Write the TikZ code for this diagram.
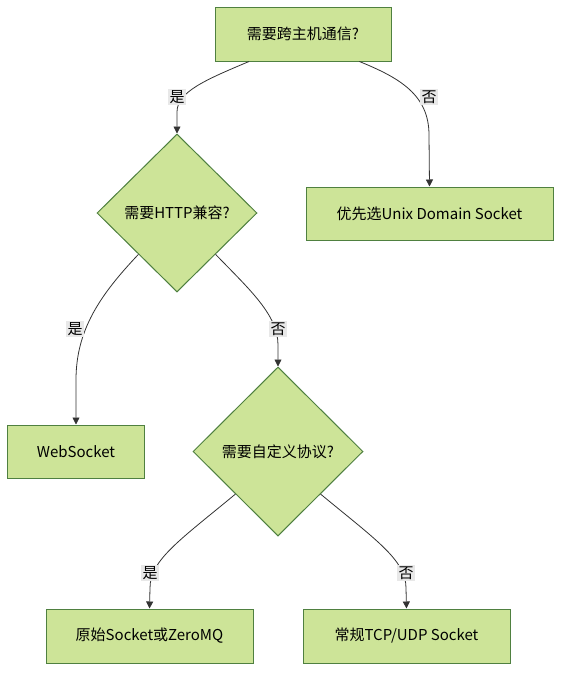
\documentclass[tikz,border=0pt]{standalone}
\usepackage{fontspec}
\setmainfont{Noto Sans CJK SC}
\usetikzlibrary{shapes.geometric,arrows.meta}
\definecolor{boxfill}{HTML}{CDE498}
\definecolor{boxline}{HTML}{4F8040}
\definecolor{lblbg}{HTML}{E8E8E8}
\tikzset{
  box/.style={draw=boxline, line width=1pt, fill=boxfill, rectangle, minimum height=53, inner sep=0pt, font=\fontsize{15}{17}\selectfont},
  dia/.style={draw=boxline, line width=1pt, fill=boxfill, diamond, inner sep=0pt, font=\fontsize{15}{17}\selectfont},
  arr/.style={draw=black!80, line width=0.8pt, -{Triangle[length=7pt,width=7pt]}},
  lbl/.style={fill=lblbg, inner sep=1.5pt, font=\fontsize{15}{17}\selectfont}
}
\begin{document}
\begin{tikzpicture}[x=1pt,y=-1pt]
\useasboundingbox (0,0) rectangle (569,680);
\node[box, minimum width=176, minimum height=54] (q1) at (303,34) {需要跨主机通信?};
\node[dia, minimum width=160, minimum height=158] (d1) at (177,213) {需要HTTP兼容?};
\node[box, minimum width=247] (unix) at (429.5,213.5) {优先选Unix Domain Socket};
\node[box, minimum width=137] (ws) at (76,451.5) {WebSocket};
\node[dia, minimum width=170, minimum height=169] (d2) at (278,451.5) {需要自定义协议?};
\node[box, minimum width=207, minimum height=54] (raw) at (149.5,636) {原始Socket或ZeroMQ};
\node[box, minimum width=207, minimum height=54] (tcp) at (406.5,636) {常规TCP/UDP Socket};

\coordinate (c1) at (177,112);
\coordinate (c2) at (429,135);
\coordinate (c3) at (76,380);
\coordinate (c4) at (278,345);
\coordinate (c5) at (150,588);
\coordinate (c6) at (406,588);

\draw[arr] (q1.-153.4) .. controls (205,80) and (177,92) .. (c1) -- (d1.north);
\draw[arr] (q1.-26.6) .. controls (400,78) and (429,95) .. (c2) -- (unix.north);
\draw[arr] (d1.-133) .. controls (100,295) and (76,330) .. (c3) -- (ws.north);
\draw[arr] (d1.-47) .. controls (250,290) and (278,315) .. (c4) -- (d2.north);
\draw[arr] (d2.-135) .. controls (180,540) and (150,560) .. (c5) -- (raw.north);
\draw[arr] (d2.-45) .. controls (376,540) and (406,560) .. (c6) -- (tcp.north);

\node[lbl] (l1) at (177,97) {是};
\node[lbl] (l2) at (429,97) {否};
\node[lbl] (l3) at (75,329) {是};
\node[lbl] (l4) at (278,329) {否};
\node[lbl] (l5) at (150,573) {是};
\node[lbl] (l6) at (406,573) {否};
\end{tikzpicture}
\end{document}
